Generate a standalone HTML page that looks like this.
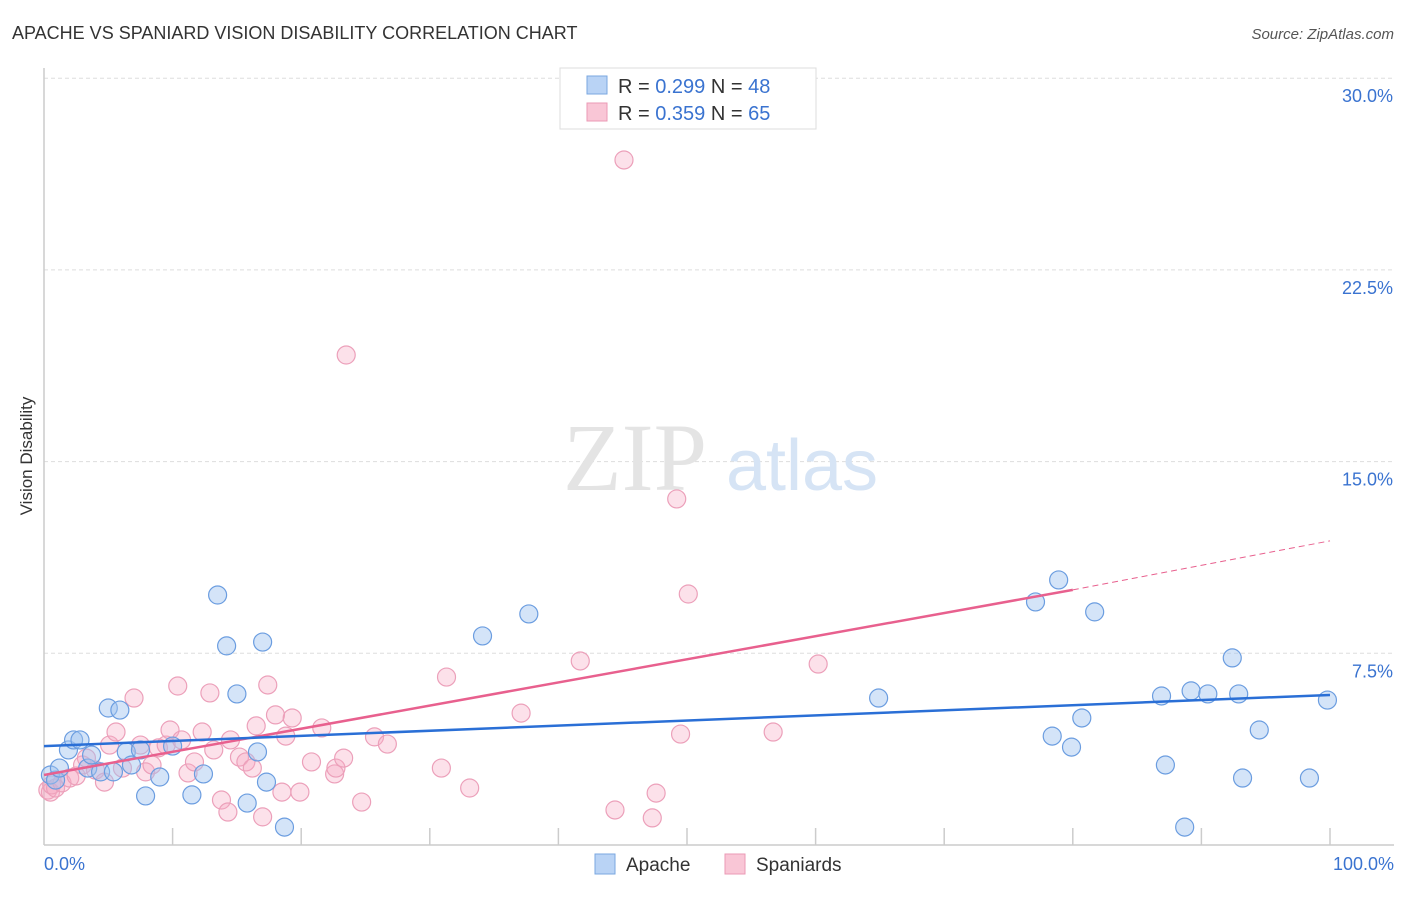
<!DOCTYPE html>
<html><head><meta charset="utf-8"><style>
body{margin:0;background:#fff;font-family:"Liberation Sans",sans-serif}
</style></head><body>
<svg width="1406" height="892" xmlns="http://www.w3.org/2000/svg" font-family="Liberation Sans, sans-serif">
<text x="12" y="39" font-size="18" fill="#333">APACHE VS SPANIARD VISION DISABILITY CORRELATION CHART</text>
<text x="1394" y="39" font-size="15" fill="#555" font-style="italic" text-anchor="end">Source: ZipAtlas.com</text>
<g id="grid"></g>
<text x="635" y="490" font-size="96" fill="#e4e4e4" font-family="Liberation Serif, serif" text-anchor="middle">ZIP</text>
<text x="802" y="490" font-size="72" fill="#d6e4f5" text-anchor="middle">atlas</text>
<g id="marks"></g>
<text x="32" y="456" font-size="17" fill="#333" text-anchor="middle" transform="rotate(-90 32 456)">Vision Disability</text>
<text x="44" y="870" font-size="18" fill="#3a73d0">0.0%</text>
<text x="1394" y="870" font-size="18" fill="#3a73d0" text-anchor="end">100.0%</text>
<rect x="560" y="68" width="256" height="61" fill="#fff" stroke="#ddd"/>
<rect x="587" y="76" width="20" height="18" fill="#b9d3f5" stroke="#7aa7e0"/>
<text x="618" y="93" font-size="20" fill="#333">R = <tspan fill="#3a73d0">0.299</tspan>   N = <tspan fill="#3a73d0">48</tspan></text>
<rect x="587" y="103" width="20" height="18" fill="#f9c6d6" stroke="#eb9ab5"/>
<text x="618" y="120" font-size="20" fill="#333">R = <tspan fill="#3a73d0">0.359</tspan>   N = <tspan fill="#3a73d0">65</tspan></text>
<rect x="595" y="854" width="20" height="20" fill="#b9d3f5" stroke="#7aa7e0"/>
<text x="626" y="871" font-size="19" fill="#333">Apache</text>
<rect x="725" y="854" width="20" height="20" fill="#f9c6d6" stroke="#eb9ab5"/>
<text x="756" y="871" font-size="19" fill="#333">Spaniards</text>
</svg>
<script>
const yTicks=[7.5,15,22.5,30];
const yTickLabels=["7.5%","15.0%","22.5%","30.0%"];
const xTicks=[10,20,30,40,50,60,70,80,90,100];
const apacheX=[0.5,0.9,1.2,1.9,2.3,2.8,3.4,3.7,4.4,5.0,5.4,5.9,6.4,6.8,7.5,7.9,9.0,10.0,11.5,12.4,13.5,14.2,15.0,15.8,16.6,17.0,17.3,18.7,34.1,37.7,64.9,77.1,78.9,78.4,79.9,80.7,81.7,86.9,87.2,88.7,89.2,90.5,92.4,92.9,93.2,94.5,98.4,99.8];
const apacheY=[2.74,2.54,3.01,3.72,4.11,4.11,3.01,3.52,2.86,5.36,2.86,5.28,3.64,3.13,3.72,1.92,2.66,3.87,1.96,2.78,9.78,7.79,5.91,1.64,3.64,7.94,2.46,0.70,8.18,9.04,5.75,9.51,10.37,4.26,3.83,4.97,9.12,5.83,3.13,0.70,6.03,5.91,7.32,5.91,2.62,4.50,2.62,5.67];
const spanX=[0.3,0.5,0.6,0.9,1.4,2.0,2.5,3.0,3.3,4.0,4.7,5.1,5.6,6.1,7.0,7.5,7.9,8.4,8.9,9.5,9.8,10.4,10.7,11.2,11.7,12.3,12.9,13.2,13.8,14.3,14.5,15.2,15.7,16.2,16.5,17.0,17.4,18.0,18.5,18.8,19.3,19.9,20.8,21.6,22.6,22.7,23.3,23.5,24.7,25.7,26.7,30.9,31.3,33.1,37.1,41.7,44.4,45.1,47.3,47.6,49.2,49.5,50.1,56.7,60.2];
const spanY=[2.15,2.07,2.35,2.23,2.43,2.62,2.70,3.13,3.40,2.93,2.46,3.91,4.42,3.01,5.75,3.91,2.86,3.13,3.80,3.91,4.50,6.22,4.11,2.82,3.25,4.42,5.95,3.72,1.76,1.29,4.11,3.44,3.25,3.01,4.66,1.10,6.26,5.09,2.07,4.26,4.97,2.07,3.25,4.58,2.78,3.01,3.40,19.17,1.68,4.23,3.95,3.01,6.57,2.23,5.16,7.20,1.37,26.80,1.06,2.03,13.54,4.34,9.82,4.42,7.08];
const apacheTrend=[[0,3.87],[100,5.87]];
const spanTrend=[[0,2.74],[80,9.98],[100,11.9]];
const NS="http://www.w3.org/2000/svg";
const sx=v=>44+v*12.86;
const sy=v=>845-v*25.56;
function mk(tag,attrs,parent){const e=document.createElementNS(NS,tag);for(const k in attrs)e.setAttribute(k,attrs[k]);parent.appendChild(e);return e;}
const grid=document.getElementById('grid');
yTicks.forEach((t,i)=>{
 const l=mk('line',{x1:44,x2:1394,y1:sy(t),y2:sy(t),stroke:'#ddd','stroke-dasharray':'4,3'},grid);
 
 
 const tx=mk('text',{x:1393,y:sy(t)+24,'font-size':18,fill:'#3a73d0','text-anchor':'end'},grid);
 tx.textContent=yTickLabels[i];
 
 
});
xTicks.forEach(t=>{
 const l=mk('line',{x1:sx(t),x2:sx(t),y1:828,y2:845,stroke:'#ccc','stroke-width':1.5},grid);
 
 
});
const ax=mk('line',{x1:44,x2:44,y1:68,y2:845,stroke:'#ccc','stroke-width':1.5},grid);


const bx=mk('line',{x1:44,x2:1394,y1:845,y2:845,stroke:'#ccc','stroke-width':1.5},grid);


const marks=document.getElementById('marks');
spanX.forEach((x,i)=>{
 const c=mk('circle',{cx:sx(x),cy:sy(spanY[i]),r:9,fill:'rgba(246,170,196,0.35)',stroke:'#eca0ba','stroke-width':1.2},marks);
 
 
});
apacheX.forEach((x,i)=>{
 const c=mk('circle',{cx:sx(x),cy:sy(apacheY[i]),r:9,fill:'rgba(160,196,240,0.45)',stroke:'#6b9de0','stroke-width':1.2},marks);
 
 
});
const pl=mk('line',{x1:sx(spanTrend[0][0]),y1:sy(spanTrend[0][1]),x2:sx(spanTrend[1][0]),y2:sy(spanTrend[1][1]),stroke:'#e8608e','stroke-width':2.5},marks);


const pd=mk('line',{x1:sx(spanTrend[1][0]),y1:sy(spanTrend[1][1]),x2:sx(spanTrend[2][0]),y2:sy(spanTrend[2][1]),stroke:'#e8608e','stroke-width':1,'stroke-dasharray':'6,4'},marks);


const bl=mk('line',{x1:sx(apacheTrend[0][0]),y1:sy(apacheTrend[0][1]),x2:sx(apacheTrend[1][0]),y2:sy(apacheTrend[1][1]),stroke:'#2a6fd6','stroke-width':2.5},marks);


</script>
</body></html>
